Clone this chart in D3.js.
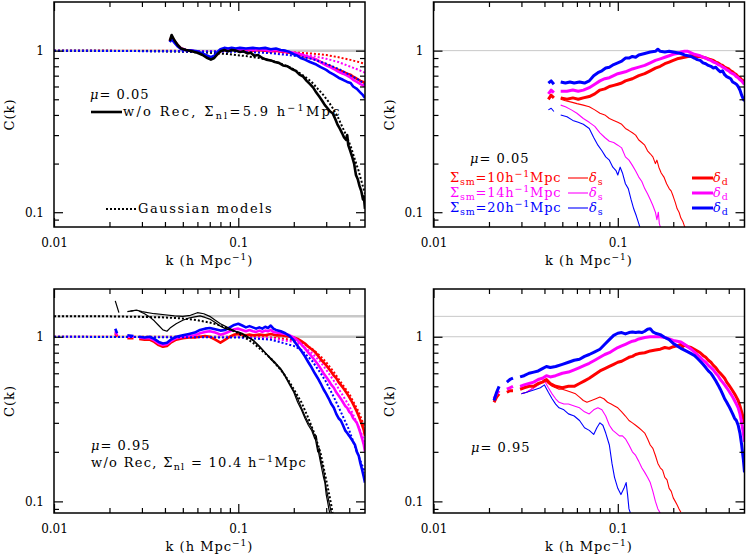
<!DOCTYPE html>
<html><head><meta charset="utf-8">
<script src="https://cdn.jsdelivr.net/npm/d3@7"></script>
<style>
body{margin:0;background:#fff}
svg{display:block}
text{font-family:"DejaVu Serif",serif;fill:#000}
</style>
</head><body>
<svg id="c" width="747" height="558"></svg>
<script>
// ---------------- DATA (k [h/Mpc], C(k)) ; null = gap ----------------
const majorX = [0.01, 0.1];
const minorX = [0.02,0.03,0.04,0.05,0.06,0.07,0.08,0.09,0.2,0.3,0.4];
const majorY = [0.1, 1];
const minorY = [0.09,0.2,0.3,0.4,0.5,0.6,0.7,0.8,0.9];
const xTickLabels = ["0.01","0.1"];
const yTickLabels = ["0.1","1"];

// Panel A: mu=0.05, pre-recon vs reconstructed (delta_d) with models
const A_black = [[0.0425,1.15],[0.0435,1.25],[0.045,1.16],[0.047,1.08],[0.049,1.03],[0.052,1.01],[0.056,0.99],[0.06,0.97],[0.064,0.94],[0.068,0.9],[0.071,0.88],[0.074,0.9],[0.077,0.95],[0.08,0.99],[0.084,1.01],[0.088,0.99],[0.092,1.01],[0.097,1.0],[0.102,0.98],[0.107,0.99],[0.112,0.96],[0.117,0.97],[0.122,0.93],[0.128,0.94],[0.135,0.9],[0.142,0.88],[0.15,0.87],[0.158,0.85],[0.166,0.84],[0.175,0.81],[0.185,0.8],[0.195,0.77],[0.205,0.75],[0.215,0.71],[0.225,0.69],[0.235,0.65],[0.245,0.62],[0.255,0.59],[0.265,0.55],[0.275,0.52],[0.285,0.49],[0.295,0.46],[0.305,0.44],[0.315,0.42],[0.325,0.41],[0.335,0.38],[0.345,0.35],[0.355,0.33],[0.365,0.31],[0.375,0.29],[0.385,0.28],[0.39,0.3],[0.395,0.26],[0.405,0.24],[0.415,0.22],[0.425,0.2],[0.435,0.17],[0.445,0.16],[0.455,0.145],[0.465,0.135],[0.475,0.12],[0.48,0.125],[0.487,0.105]];
const A_blackModel = [[0.01,1],[0.03,0.995],[0.05,0.985],[0.07,0.97],[0.09,0.95],[0.11,0.925],[0.13,0.9],[0.15,0.87],[0.17,0.83],[0.19,0.79],[0.21,0.74],[0.23,0.69],[0.25,0.64],[0.27,0.58],[0.29,0.53],[0.31,0.48],[0.33,0.43],[0.35,0.38],[0.37,0.33],[0.39,0.29],[0.41,0.25],[0.43,0.21],[0.45,0.18],[0.47,0.15],[0.487,0.13]];
const A_red = [[0.0425,1.15],[0.0435,1.22],[0.045,1.15],[0.047,1.08],[0.049,1.03],[0.052,1.01],[0.056,1.0],[0.06,0.98],[0.064,0.95],[0.068,0.91],[0.071,0.89],[0.074,0.91],[0.077,0.95],[0.08,0.99],[0.084,1.01],[0.088,1.0],[0.092,1.02],[0.097,1.01],[0.102,1.0],[0.11,1.01],[0.12,1.0],[0.13,1.01],[0.14,1.0],[0.15,0.99],[0.16,1.0],[0.17,0.99],[0.18,0.98],[0.19,0.97],[0.2,0.96],[0.21,0.95],[0.22,0.94],[0.23,0.92],[0.24,0.91],[0.25,0.9],[0.265,0.88],[0.28,0.85],[0.3,0.82],[0.315,0.8],[0.33,0.78],[0.35,0.76],[0.37,0.74],[0.39,0.72],[0.407,0.71],[0.42,0.69],[0.44,0.67],[0.46,0.65],[0.475,0.64],[0.487,0.63]];
const A_magenta = [[0.0425,1.14],[0.0435,1.2],[0.045,1.14],[0.047,1.07],[0.049,1.03],[0.052,1.01],[0.056,1.0],[0.06,0.98],[0.064,0.95],[0.068,0.92],[0.071,0.9],[0.074,0.92],[0.077,0.96],[0.08,1.0],[0.084,1.02],[0.088,1.01],[0.092,1.02],[0.097,1.02],[0.102,1.01],[0.11,1.02],[0.12,1.01],[0.13,1.02],[0.14,1.01],[0.15,1.0],[0.16,1.01],[0.17,1.0],[0.18,0.99],[0.19,0.98],[0.2,0.97],[0.21,0.96],[0.218,0.95],[0.23,0.93],[0.245,0.91],[0.265,0.88],[0.28,0.85],[0.3,0.81],[0.315,0.79],[0.33,0.77],[0.35,0.74],[0.37,0.72],[0.39,0.7],[0.407,0.68],[0.42,0.66],[0.44,0.64],[0.46,0.62],[0.475,0.61],[0.487,0.6]];
const A_blue = [[0.0425,1.13],[0.0435,1.18],[0.045,1.12],[0.047,1.06],[0.049,1.02],[0.052,1.01],[0.056,1.0],[0.06,0.99],[0.064,0.96],[0.068,0.93],[0.071,0.91],[0.074,0.93],[0.077,0.98],[0.08,1.02],[0.084,1.04],[0.088,1.03],[0.092,1.04],[0.097,1.03],[0.102,1.04],[0.11,1.03],[0.12,1.04],[0.13,1.03],[0.14,1.04],[0.15,1.02],[0.16,1.03],[0.17,1.01],[0.18,1.0],[0.19,0.98],[0.2,0.95],[0.21,0.93],[0.218,0.9],[0.23,0.88],[0.245,0.85],[0.265,0.82],[0.28,0.79],[0.3,0.76],[0.315,0.73],[0.33,0.71],[0.35,0.68],[0.37,0.66],[0.39,0.64],[0.407,0.63],[0.42,0.6],[0.44,0.58],[0.46,0.55],[0.475,0.53],[0.487,0.51]];
const A_redModel = [[0.01,1],[0.1,0.995],[0.15,0.99],[0.2,0.975],[0.25,0.96],[0.3,0.94],[0.35,0.91],[0.4,0.88],[0.45,0.85],[0.487,0.83]];
const A_magentaModel = [[0.01,1],[0.1,0.99],[0.15,0.98],[0.2,0.955],[0.25,0.93],[0.3,0.89],[0.35,0.85],[0.4,0.8],[0.45,0.76],[0.487,0.73]];
const A_blueModel = [[0.01,1],[0.1,0.985],[0.15,0.965],[0.2,0.93],[0.25,0.89],[0.3,0.83],[0.35,0.77],[0.4,0.71],[0.45,0.66],[0.487,0.62]];

// Panel B: mu=0.05, delta_d (thick) and delta_s (thin)
const B_blueD = [[0.042,0.63],[0.0435,0.65],[0.045,0.62],null,[0.049,0.64],[0.052,0.63],[0.055,0.64],[0.058,0.63],[0.062,0.64],[0.066,0.63],[0.07,0.65],[0.074,0.7],[0.078,0.73],[0.082,0.75],[0.086,0.78],[0.09,0.79],[0.095,0.82],[0.1,0.84],[0.105,0.86],[0.11,0.9],[0.115,0.9],[0.12,0.92],[0.125,0.91],[0.13,0.94],[0.14,0.96],[0.15,0.98],[0.16,0.99],[0.165,1.02],[0.17,0.99],[0.18,0.98],[0.19,0.99],[0.2,0.98],[0.21,0.97],[0.22,0.96],[0.23,0.94],[0.24,0.93],[0.25,0.92],[0.26,0.9],[0.27,0.88],[0.28,0.87],[0.29,0.84],[0.3,0.83],[0.31,0.81],[0.32,0.8],[0.33,0.78],[0.34,0.79],[0.35,0.76],[0.36,0.74],[0.37,0.75],[0.38,0.71],[0.39,0.69],[0.4,0.68],[0.41,0.67],[0.42,0.64],[0.43,0.63],[0.44,0.62],[0.45,0.6],[0.46,0.57],[0.47,0.53],[0.48,0.5],[0.487,0.49]];
const B_magentaD = [[0.042,0.54],[0.0435,0.57],[0.045,0.55],null,[0.049,0.56],[0.053,0.56],[0.057,0.57],[0.061,0.56],[0.065,0.57],[0.07,0.59],[0.075,0.62],[0.08,0.65],[0.085,0.67],[0.09,0.68],[0.095,0.7],[0.1,0.72],[0.105,0.73],[0.11,0.74],[0.12,0.77],[0.13,0.79],[0.14,0.81],[0.15,0.84],[0.16,0.87],[0.17,0.89],[0.18,0.91],[0.19,0.93],[0.2,0.95],[0.21,0.96],[0.22,0.98],[0.23,0.99],[0.24,0.99],[0.25,0.97],[0.26,0.95],[0.27,0.94],[0.28,0.93],[0.29,0.91],[0.3,0.9],[0.31,0.88],[0.32,0.87],[0.33,0.85],[0.34,0.84],[0.35,0.82],[0.36,0.81],[0.37,0.79],[0.38,0.78],[0.39,0.76],[0.4,0.75],[0.41,0.73],[0.42,0.72],[0.43,0.71],[0.44,0.69],[0.45,0.68],[0.46,0.66],[0.47,0.65],[0.48,0.63],[0.487,0.62]];
const B_redD = [[0.042,0.5],[0.0435,0.53],[0.045,0.51],null,[0.049,0.51],[0.053,0.5],[0.057,0.51],[0.061,0.5],[0.065,0.51],[0.07,0.52],[0.075,0.54],[0.08,0.57],[0.085,0.58],[0.09,0.6],[0.095,0.61],[0.1,0.62],[0.105,0.63],[0.11,0.65],[0.12,0.67],[0.13,0.7],[0.14,0.72],[0.15,0.75],[0.16,0.78],[0.17,0.8],[0.18,0.83],[0.19,0.85],[0.2,0.87],[0.21,0.89],[0.22,0.9],[0.23,0.91],[0.24,0.92],[0.25,0.93],[0.26,0.93],[0.27,0.92],[0.28,0.92],[0.29,0.91],[0.3,0.9],[0.31,0.89],[0.32,0.88],[0.33,0.87],[0.34,0.85],[0.35,0.84],[0.36,0.82],[0.37,0.81],[0.38,0.79],[0.39,0.78],[0.4,0.77],[0.41,0.75],[0.42,0.74],[0.43,0.72],[0.44,0.71],[0.45,0.69],[0.46,0.68],[0.47,0.66],[0.48,0.65],[0.487,0.63]];
const B_redS = [[0.049,0.5],[0.052,0.49],[0.056,0.48],[0.06,0.47],[0.065,0.46],[0.07,0.45],[0.075,0.43],[0.08,0.41],[0.085,0.4],[0.09,0.38],[0.095,0.37],[0.1,0.36],[0.105,0.35],[0.11,0.33],[0.115,0.32],[0.12,0.31],[0.125,0.3],[0.13,0.28],[0.135,0.27],[0.14,0.26],[0.145,0.24],[0.15,0.23],[0.155,0.22],[0.16,0.2],[0.163,0.21],[0.167,0.19],[0.172,0.175],[0.178,0.165],[0.184,0.15],[0.19,0.14],[0.195,0.135],[0.2,0.125],[0.205,0.115],[0.21,0.105],[0.215,0.1],[0.22,0.092],[0.225,0.088],[0.23,0.082],[0.235,0.078]];
const B_magentaS = [[0.049,0.46],[0.052,0.45],[0.056,0.43],[0.06,0.41],[0.065,0.38],[0.07,0.36],[0.075,0.34],[0.08,0.31],[0.085,0.29],[0.09,0.275],[0.095,0.27],[0.1,0.26],[0.105,0.25],[0.11,0.22],[0.115,0.21],[0.12,0.195],[0.125,0.18],[0.13,0.165],[0.135,0.155],[0.14,0.14],[0.145,0.13],[0.15,0.12],[0.155,0.11],[0.16,0.1],[0.163,0.09],[0.166,0.1],[0.168,0.085],[0.172,0.078]];
const B_blueS = [[0.042,0.43],[0.0435,0.44],[0.045,0.42],null,[0.049,0.4],[0.053,0.39],[0.057,0.37],[0.061,0.36],[0.065,0.35],[0.07,0.33],[0.074,0.29],[0.078,0.26],[0.082,0.24],[0.086,0.22],[0.09,0.21],[0.094,0.19],[0.098,0.18],[0.1,0.17],[0.103,0.19],[0.106,0.175],[0.11,0.15],[0.114,0.14],[0.118,0.12],[0.122,0.105],[0.126,0.095],[0.13,0.085],[0.133,0.078]];

// Panel C: mu=0.95
const C_blackModel = [[0.01,1.33],[0.02,1.33],[0.03,1.32],[0.04,1.31],[0.05,1.29],[0.06,1.26],[0.07,1.22],[0.08,1.17],[0.09,1.11],[0.1,1.05],[0.11,0.98],[0.12,0.92],[0.13,0.85],[0.14,0.79],[0.15,0.74],[0.17,0.63],[0.19,0.53],[0.2,0.48],[0.22,0.4],[0.24,0.32],[0.26,0.255],[0.28,0.195],[0.3,0.135],[0.31,0.113],[0.32,0.094],[0.325,0.085]];
const C_black1 = [[0.0215,1.65],[0.0225,1.4],null,[0.025,1.42],[0.027,1.44],null,[0.029,1.43],[0.031,1.38],[0.033,1.32],[0.035,1.25],[0.037,1.17],[0.039,1.1],[0.041,1.08],[0.043,1.14],[0.046,1.2],[0.05,1.26],[0.054,1.3],[0.058,1.32],[0.062,1.34],[0.066,1.31],[0.07,1.28],[0.075,1.22],[0.08,1.16],[0.085,1.12],[0.09,1.1],[0.095,1.08],[0.1,1.07],[0.105,1.05],[0.11,1.0],[0.115,0.98],[0.12,0.96],[0.13,0.88],[0.14,0.8],[0.15,0.73],[0.16,0.68],[0.17,0.63],[0.18,0.57],[0.19,0.51],[0.2,0.46],[0.21,0.4],[0.22,0.36],[0.23,0.32],[0.24,0.29],[0.25,0.27],[0.26,0.24],[0.265,0.25],[0.27,0.21],[0.28,0.17],[0.29,0.14],[0.295,0.13],[0.3,0.11],[0.305,0.1],[0.31,0.09],[0.315,0.083]];
const C_black2 = [[0.026,1.43],[0.028,1.45],[0.03,1.42],[0.035,1.38],[0.04,1.36],[0.045,1.34],[0.05,1.33],[0.055,1.35],[0.06,1.4],[0.065,1.38],[0.07,1.33],[0.075,1.26],[0.08,1.2],[0.09,1.12],[0.1,1.06],[0.11,1.02],[0.12,0.95],[0.13,0.87],[0.14,0.8],[0.15,0.74],[0.16,0.69],[0.17,0.64],[0.18,0.58],[0.19,0.52],[0.2,0.47],[0.21,0.42],[0.22,0.37],[0.23,0.33],[0.24,0.3],[0.25,0.28],[0.26,0.25],[0.27,0.2],[0.275,0.21],[0.28,0.18],[0.29,0.155],[0.3,0.12],[0.31,0.1],[0.32,0.085]];
const C_blue = [[0.0215,1.12],[0.022,1.05],null,[0.025,1.02],[0.027,1.01],null,[0.029,1.0],[0.031,0.99],[0.033,1.0],[0.035,0.97],[0.037,0.93],[0.039,0.91],[0.041,0.92],[0.043,0.96],[0.046,1.0],[0.05,1.02],[0.054,1.04],[0.058,1.06],[0.062,1.1],[0.066,1.12],[0.07,1.13],[0.075,1.11],[0.08,1.09],[0.085,1.1],[0.09,1.14],[0.095,1.18],[0.1,1.2],[0.105,1.17],[0.11,1.14],[0.115,1.16],[0.12,1.14],[0.125,1.12],[0.13,1.14],[0.135,1.12],[0.14,1.15],[0.145,1.13],[0.15,1.17],[0.155,1.12],[0.16,1.1],[0.17,1.08],[0.18,1.05],[0.19,1.01],[0.2,0.95],[0.21,0.88],[0.22,0.82],[0.23,0.76],[0.24,0.7],[0.25,0.65],[0.26,0.6],[0.27,0.56],[0.28,0.52],[0.29,0.48],[0.3,0.45],[0.31,0.42],[0.32,0.39],[0.33,0.37],[0.34,0.34],[0.35,0.32],[0.36,0.31],[0.37,0.29],[0.38,0.27],[0.39,0.26],[0.4,0.25],[0.41,0.24],[0.42,0.23],[0.43,0.22],[0.44,0.2],[0.45,0.19],[0.46,0.17],[0.47,0.155],[0.48,0.14],[0.487,0.13]];
const C_magenta = [[0.0215,1.08],[0.022,1.02],null,[0.025,1.0],[0.027,1.0],null,[0.029,0.99],[0.031,0.98],[0.033,0.98],[0.035,0.95],[0.037,0.91],[0.039,0.89],[0.041,0.9],[0.043,0.94],[0.046,0.98],[0.05,1.0],[0.054,1.01],[0.058,1.02],[0.062,1.05],[0.066,1.07],[0.07,1.08],[0.075,1.06],[0.08,1.03],[0.085,1.05],[0.09,1.08],[0.095,1.11],[0.1,1.12],[0.105,1.1],[0.11,1.08],[0.115,1.1],[0.12,1.08],[0.125,1.07],[0.13,1.09],[0.135,1.07],[0.14,1.09],[0.145,1.08],[0.15,1.1],[0.155,1.07],[0.16,1.06],[0.17,1.05],[0.18,1.04],[0.19,1.02],[0.2,0.99],[0.21,0.95],[0.22,0.9],[0.23,0.85],[0.24,0.8],[0.25,0.76],[0.26,0.72],[0.27,0.68],[0.28,0.64],[0.29,0.6],[0.3,0.57],[0.31,0.54],[0.32,0.51],[0.33,0.49],[0.34,0.46],[0.35,0.44],[0.36,0.42],[0.37,0.4],[0.38,0.38],[0.39,0.37],[0.4,0.35],[0.41,0.34],[0.42,0.32],[0.43,0.31],[0.44,0.3],[0.45,0.28],[0.46,0.26],[0.47,0.24],[0.48,0.22],[0.487,0.2]];
const C_red = [[0.0215,1.05],[0.022,1.0],null,[0.025,0.98],[0.027,0.98],null,[0.029,0.97],[0.031,0.96],[0.033,0.96],[0.035,0.93],[0.037,0.89],[0.039,0.87],[0.041,0.88],[0.043,0.92],[0.046,0.96],[0.05,0.98],[0.054,0.99],[0.058,0.99],[0.062,1.0],[0.066,1.01],[0.07,1.0],[0.075,0.96],[0.08,0.92],[0.085,0.96],[0.09,1.0],[0.095,1.03],[0.1,1.04],[0.105,1.03],[0.11,1.02],[0.115,1.03],[0.12,1.02],[0.13,1.03],[0.14,1.02],[0.15,1.04],[0.16,1.02],[0.17,1.02],[0.18,1.01],[0.19,1.0],[0.2,0.99],[0.21,0.97],[0.22,0.94],[0.23,0.91],[0.24,0.87],[0.25,0.84],[0.26,0.81],[0.27,0.77],[0.28,0.73],[0.29,0.7],[0.3,0.67],[0.31,0.64],[0.32,0.61],[0.33,0.58],[0.34,0.56],[0.35,0.53],[0.36,0.51],[0.37,0.49],[0.38,0.47],[0.39,0.45],[0.4,0.43],[0.41,0.41],[0.42,0.39],[0.43,0.37],[0.44,0.35],[0.45,0.33],[0.46,0.31],[0.47,0.29],[0.48,0.27],[0.487,0.25]];
const C_redModel = [[0.01,1],[0.1,1.0],[0.15,0.99],[0.18,0.97],[0.2,0.95],[0.22,0.92],[0.25,0.85],[0.28,0.76],[0.3,0.7],[0.33,0.61],[0.36,0.53],[0.4,0.45],[0.45,0.35],[0.487,0.28]];
const C_magentaModel = [[0.01,1],[0.1,0.995],[0.15,0.98],[0.2,0.93],[0.22,0.89],[0.25,0.8],[0.28,0.7],[0.3,0.63],[0.33,0.54],[0.36,0.46],[0.4,0.38],[0.44,0.3],[0.487,0.23]];
const C_blueModel = [[0.01,1],[0.1,0.99],[0.15,0.96],[0.2,0.88],[0.22,0.83],[0.25,0.72],[0.28,0.6],[0.3,0.53],[0.33,0.43],[0.36,0.35],[0.4,0.27],[0.44,0.2],[0.487,0.15]];

// Panel D: mu=0.95, delta_d (thick) and delta_s (thin)
const D_blueD = [[0.0213,0.41],[0.022,0.46],[0.0227,0.5],null,[0.025,0.53],[0.026,0.55],[0.027,0.56],null,[0.0295,0.57],[0.031,0.58],[0.033,0.6],[0.035,0.61],[0.037,0.62],[0.039,0.64],[0.041,0.66],[0.043,0.65],[0.046,0.66],[0.05,0.68],[0.054,0.7],[0.058,0.72],[0.062,0.73],[0.066,0.76],[0.07,0.78],[0.075,0.81],[0.08,0.84],[0.085,0.9],[0.09,0.96],[0.095,1.02],[0.1,1.05],[0.105,1.06],[0.11,1.04],[0.115,1.06],[0.12,1.07],[0.125,1.06],[0.13,1.07],[0.135,1.06],[0.14,1.08],[0.145,1.11],[0.15,1.12],[0.155,1.07],[0.16,1.05],[0.17,1.03],[0.18,0.99],[0.19,0.96],[0.2,0.91],[0.21,0.88],[0.22,0.85],[0.23,0.83],[0.24,0.81],[0.25,0.79],[0.26,0.77],[0.27,0.74],[0.28,0.71],[0.29,0.68],[0.3,0.65],[0.31,0.62],[0.32,0.6],[0.33,0.57],[0.34,0.54],[0.35,0.51],[0.36,0.48],[0.37,0.45],[0.38,0.42],[0.39,0.4],[0.4,0.38],[0.41,0.36],[0.42,0.34],[0.43,0.32],[0.44,0.31],[0.45,0.29],[0.46,0.26],[0.47,0.22],[0.48,0.18],[0.487,0.15]];
const D_magentaD = [[0.0213,0.42],[0.022,0.45],[0.0227,0.47],null,[0.025,0.48],[0.026,0.49],[0.027,0.5],null,[0.0295,0.5],[0.031,0.51],[0.033,0.52],[0.035,0.53],[0.037,0.55],[0.039,0.56],[0.041,0.58],[0.043,0.57],[0.046,0.58],[0.05,0.6],[0.054,0.61],[0.058,0.63],[0.062,0.65],[0.066,0.67],[0.07,0.69],[0.075,0.72],[0.08,0.75],[0.085,0.78],[0.09,0.8],[0.095,0.83],[0.1,0.86],[0.105,0.88],[0.11,0.9],[0.115,0.92],[0.12,0.94],[0.125,0.95],[0.13,0.97],[0.135,0.98],[0.14,0.99],[0.15,1.0],[0.16,1.0],[0.17,1.0],[0.18,0.99],[0.19,0.97],[0.2,0.95],[0.21,0.94],[0.22,0.93],[0.23,0.9],[0.24,0.87],[0.25,0.84],[0.26,0.81],[0.27,0.78],[0.28,0.75],[0.29,0.72],[0.3,0.7],[0.31,0.67],[0.32,0.65],[0.33,0.63],[0.34,0.6],[0.35,0.58],[0.36,0.55],[0.37,0.53],[0.38,0.51],[0.39,0.49],[0.4,0.47],[0.41,0.45],[0.42,0.43],[0.43,0.41],[0.44,0.39],[0.45,0.37],[0.46,0.34],[0.47,0.3],[0.48,0.26],[0.487,0.23]];
const D_redD = [[0.0213,0.4],[0.022,0.43],[0.0227,0.45],null,[0.025,0.46],[0.026,0.47],[0.027,0.47],null,[0.0295,0.48],[0.031,0.49],[0.033,0.5],[0.035,0.5],[0.037,0.52],[0.039,0.53],[0.041,0.55],[0.043,0.52],[0.046,0.5],[0.05,0.49],[0.054,0.5],[0.058,0.5],[0.062,0.52],[0.066,0.54],[0.07,0.56],[0.075,0.59],[0.08,0.62],[0.085,0.64],[0.09,0.66],[0.095,0.68],[0.1,0.7],[0.105,0.71],[0.11,0.73],[0.115,0.75],[0.12,0.76],[0.125,0.78],[0.13,0.79],[0.14,0.8],[0.15,0.82],[0.16,0.83],[0.17,0.84],[0.18,0.86],[0.19,0.85],[0.2,0.87],[0.21,0.88],[0.22,0.9],[0.225,0.87],[0.23,0.89],[0.24,0.87],[0.25,0.86],[0.26,0.84],[0.27,0.82],[0.28,0.8],[0.29,0.77],[0.3,0.75],[0.31,0.72],[0.32,0.7],[0.33,0.67],[0.34,0.65],[0.35,0.62],[0.36,0.6],[0.37,0.58],[0.38,0.56],[0.39,0.53],[0.4,0.51],[0.41,0.49],[0.42,0.47],[0.43,0.45],[0.44,0.43],[0.45,0.41],[0.46,0.38],[0.47,0.35],[0.48,0.32],[0.487,0.3]];
const D_redS = [[0.03,0.45],[0.032,0.46],[0.034,0.48],[0.036,0.5],[0.038,0.52],[0.04,0.55],[0.042,0.52],[0.044,0.5],[0.046,0.49],[0.048,0.48],[0.05,0.48],[0.053,0.47],[0.056,0.46],[0.059,0.45],[0.062,0.43],[0.065,0.41],[0.068,0.4],[0.072,0.41],[0.076,0.42],[0.08,0.43],[0.084,0.42],[0.088,0.4],[0.092,0.39],[0.096,0.38],[0.1,0.37],[0.105,0.35],[0.11,0.33],[0.115,0.31],[0.12,0.3],[0.125,0.29],[0.13,0.28],[0.135,0.27],[0.14,0.26],[0.145,0.24],[0.15,0.22],[0.155,0.21],[0.16,0.19],[0.165,0.17],[0.17,0.16],[0.175,0.155],[0.18,0.14],[0.185,0.135],[0.19,0.12],[0.195,0.115],[0.2,0.105],[0.205,0.1],[0.21,0.095],[0.215,0.09],[0.22,0.086]];
const D_magentaS = [[0.03,0.45],[0.032,0.46],[0.034,0.48],[0.036,0.5],[0.038,0.52],[0.04,0.54],[0.042,0.49],[0.044,0.45],[0.046,0.42],[0.048,0.4],[0.051,0.39],[0.054,0.39],[0.058,0.38],[0.062,0.37],[0.066,0.35],[0.07,0.34],[0.074,0.36],[0.078,0.37],[0.082,0.36],[0.086,0.33],[0.09,0.29],[0.094,0.27],[0.098,0.26],[0.102,0.25],[0.106,0.25],[0.11,0.24],[0.115,0.22],[0.12,0.2],[0.125,0.19],[0.13,0.175],[0.135,0.16],[0.14,0.15],[0.145,0.14],[0.15,0.13],[0.155,0.115],[0.16,0.1],[0.165,0.09],[0.17,0.085]];
const D_blueS = [[0.03,0.45],[0.032,0.46],[0.034,0.47],[0.036,0.48],[0.038,0.49],[0.04,0.51],[0.042,0.46],[0.044,0.42],[0.046,0.39],[0.048,0.37],[0.051,0.36],[0.054,0.34],[0.058,0.33],[0.062,0.31],[0.066,0.28],[0.07,0.27],[0.074,0.255],[0.077,0.28],[0.08,0.3],[0.083,0.29],[0.086,0.26],[0.09,0.22],[0.093,0.17],[0.096,0.14],[0.1,0.12],[0.104,0.11],[0.108,0.12],[0.111,0.13],[0.113,0.11],[0.115,0.09],[0.117,0.085]];

// ---------------- DRAWING ----------------
const RED="#ff0000", MAG="#ff00ff", BLUE="#0000ff", GRAY="#c8c8c8";
const svg = d3.select("#c");
const panels = [
  {x0:54,   y0:2,   w:311, h:225, yd:[0.081,2.0], grayLines:[1],      grayW:2.5},
  {x0:433.5,y0:2,   w:311, h:225, yd:[0.081,2.0], grayLines:[1],      grayW:1},
  {x0:54,   y0:289, w:311, h:224, yd:[0.085,1.95],grayLines:[1,1.33], grayW:2.5},
  {x0:433.5,y0:289, w:311, h:224, yd:[0.085,1.95],grayLines:[1,1.33], grayW:1}
];

function setup(p, i){
  p.x = d3.scaleLog().domain([0.01,0.487]).range([p.x0, p.x0+p.w]);
  p.y = d3.scaleLog().domain(p.yd).range([p.y0+p.h, p.y0]);
  const cid = "clip"+i;
  svg.append("clipPath").attr("id",cid).append("rect")
     .attr("x",p.x0).attr("y",p.y0).attr("width",p.w).attr("height",p.h);
  p.g = svg.append("g").attr("clip-path",`url(#${cid})`);
  p.grayLines.forEach(v=>{
    p.g.append("line").attr("x1",p.x0).attr("x2",p.x0+p.w)
      .attr("y1",p.y(v)).attr("y2",p.y(v))
      .attr("stroke",GRAY).attr("stroke-width",p.grayW);
  });
  const ax = svg.append("g");
  const mk = (axis, tr)=>{ const g=ax.append("g").attr("transform",tr).call(axis); g.select(".domain").remove(); g.selectAll("line").attr("stroke","#000").attr("stroke-width",1.2); return g;};
  mk(d3.axisBottom(p.x).tickValues(minorX).tickSize(-5).tickFormat(""), `translate(0,${p.y0+p.h})`);
  mk(d3.axisTop(p.x).tickValues(minorX).tickSize(-5).tickFormat(""), `translate(0,${p.y0})`);
  mk(d3.axisTop(p.x).tickValues(majorX).tickSize(-9).tickFormat(""), `translate(0,${p.y0})`);
  mk(d3.axisBottom(p.x).tickValues(majorX).tickSize(-9).tickPadding(11).tickFormat((d,j)=>xTickLabels[j]), `translate(0,${p.y0+p.h})`);
  mk(d3.axisLeft(p.y).tickValues(minorY).tickSize(-5).tickFormat(""), `translate(${p.x0},0)`);
  mk(d3.axisRight(p.y).tickValues(minorY).tickSize(-5).tickFormat(""), `translate(${p.x0+p.w},0)`);
  mk(d3.axisRight(p.y).tickValues(majorY).tickSize(-9).tickFormat(""), `translate(${p.x0+p.w},0)`);
  mk(d3.axisLeft(p.y).tickValues(majorY).tickSize(-9).tickPadding(10).tickFormat((d,j)=>yTickLabels[j]), `translate(${p.x0},0)`);
  ax.selectAll("text").attr("font-family","DejaVu Serif").attr("font-size",12).attr("fill","#000");
  svg.append("rect").attr("x",p.x0).attr("y",p.y0).attr("width",p.w).attr("height",p.h)
     .attr("fill","none").attr("stroke","#000").attr("stroke-width",1.5);
  const xl = svg.append("text").attr("x",p.x0+p.w/2).attr("y",p.y0+p.h+38)
     .attr("text-anchor","middle").attr("font-size",13).attr("letter-spacing",1);
  xl.append("tspan").text("k (h Mpc");
  xl.append("tspan").attr("font-size",9).attr("dy",-5).text("−1");
  xl.append("tspan").attr("dy",5).text(")");
  svg.append("text").attr("transform",`translate(${p.x0-40},${p.y0+p.h/2}) rotate(-90)`)
     .attr("text-anchor","middle").attr("font-size",13).attr("letter-spacing",1).text("C(k)");
}
panels.forEach(setup);

function line(p, data, color, w, dash){
  const gen = d3.line().defined(d=>d!==null).x(d=>p.x(d[0])).y(d=>p.y(d[1]));
  const path = p.g.append("path").datum(data).attr("d",gen).attr("fill","none")
    .attr("stroke",color).attr("stroke-width",w).attr("stroke-linejoin","round");
  if(dash) path.attr("stroke-dasharray",dash);
}
const DOT = "2,2";

let P = panels[0];
line(P, A_redModel, RED, 2, DOT);
line(P, A_magentaModel, MAG, 2, DOT);
line(P, A_blackModel, "#000", 2, DOT);
line(P, A_red, RED, 2.6);
line(P, A_magenta, MAG, 2.6);
line(P, A_blue, BLUE, 2.6);
line(P, A_blueModel, BLUE, 2, DOT);
line(P, A_black, "#000", 2.6);

P = panels[1];
line(P, B_redS, RED, 1.1);
line(P, B_magentaS, MAG, 1.1);
line(P, B_blueS, BLUE, 1.1);
line(P, B_redD, RED, 3);
line(P, B_magentaD, MAG, 3);
line(P, B_blueD, BLUE, 3);

P = panels[2];
line(P, C_redModel, RED, 2, DOT);
line(P, C_magentaModel, MAG, 2, DOT);
line(P, C_red, RED, 2.6);
line(P, C_magenta, MAG, 2.6);
line(P, C_blue, BLUE, 2.6);
line(P, C_blueModel, BLUE, 2, DOT);
line(P, C_blackModel, "#000", 2, DOT);
line(P, C_black1, "#000", 1.2);
line(P, C_black2, "#000", 1.2);

P = panels[3];
line(P, D_redS, RED, 1.1);
line(P, D_magentaS, MAG, 1.1);
line(P, D_blueS, BLUE, 1.1);
line(P, D_redD, RED, 3);
line(P, D_magentaD, MAG, 3);
line(P, D_blueD, BLUE, 3);

// ---------------- LEGENDS / ANNOTATIONS ----------------
function txt(x, y, color, parts, ls){
  const t = svg.append("text").attr("x",x).attr("y",y).attr("font-size",13)
     .attr("letter-spacing",ls==null?1:ls).style("fill",color);
  parts.forEach(pt=>{
    const s = t.append("tspan").text(pt.t);
    if(pt.sub){ s.attr("font-size",9.5).attr("dy",3); }
    if(pt.sup){ s.attr("font-size",9.5).attr("dy",-5); }
    if(pt.back) s.attr("dy",pt.back);
    if(pt.it) s.attr("font-style","italic");
  });
  return t;
}
function seg(x1,x2,y,color,w,dash){
  const l = svg.append("line").attr("x1",x1).attr("x2",x2).attr("y1",y).attr("y2",y)
    .attr("stroke",color).attr("stroke-width",w);
  if(dash) l.attr("stroke-dasharray",dash);
}
const mu = (v)=>[{t:"μ",it:true},{t:"= "+v}];

txt(90, 99, "#000", mu("0.05"));
seg(91, 122, 112, "#000", 2.6);
txt(123, 116, "#000", [{t:"w/o Rec, Σ"},{t:"nl",sub:true},{t:"=5.9 h",back:-3},{t:"−1",sup:true},{t:"Mpc",back:5}], 2.3);
seg(106, 137, 209, "#000", 2, DOT);
txt(138, 213, "#000", [{t:"Gaussian models"}], 1.6);

txt(470, 163, "#000", mu("0.05"));
const legRows = [{c:RED,v:"10",y:182},{c:MAG,v:"14",y:197},{c:BLUE,v:"20",y:212}];
legRows.forEach(r=>{
  txt(450, r.y, r.c, [{t:"Σ"},{t:"sm",sub:true},{t:"="+r.v+"h",back:-3},{t:"−1",sup:true},{t:"Mpc",back:5}], 0.8);
  seg(568, 588, r.y-4, r.c, 1.1);
  txt(589, r.y, r.c, [{t:"δ",it:true},{t:"s",sub:true}]);
  seg(692, 713, r.y-4, r.c, 3);
  txt(713, r.y, r.c, [{t:"δ",it:true},{t:"d",sub:true}]);
});

txt(91, 450, "#000", mu("0.95"));
txt(91, 467, "#000", [{t:"w/o Rec, Σ"},{t:"nl",sub:true},{t:" = 10.4 h",back:-3},{t:"−1",sup:true},{t:"Mpc",back:5}], 1.3);

txt(471, 452, "#000", mu("0.95"));
</script>
</body></html>
